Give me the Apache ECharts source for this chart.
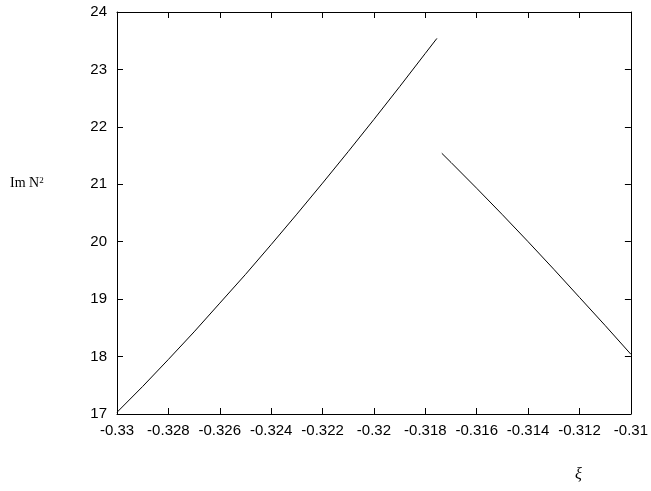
<!DOCTYPE html>
<html>
<head>
<meta charset="utf-8">
<script src="https://cdn.jsdelivr.net/npm/echarts@6/dist/echarts.min.js"></script>
<style>
  html, body { margin: 0; padding: 0; background: #fff; }
  #chart { width: 651px; height: 491px; }
</style>
</head>
<body>
<div id="chart"></div>
<script>
// left branch (rising)
const xLeft = [-0.330, -0.329, -0.328, -0.327, -0.326, -0.325, -0.324, -0.323, -0.322, -0.321, -0.320, -0.319, -0.318, -0.31755];
const yLeft = [17.03, 17.48, 17.95, 18.43, 18.93, 19.43, 19.95, 20.48, 21.02, 21.57, 22.13, 22.70, 23.28, 23.54];

// right branch (falling)
const xRight = [-0.31736, -0.317, -0.316, -0.315, -0.314, -0.313, -0.312, -0.311, -0.310];
const yRight = [21.54, 21.38, 20.93, 20.47, 20.00, 19.52, 19.03, 18.54, 18.04];

const xMin = -0.33, xMax = -0.31, xStep = 0.002;
const yMin = 17, yMax = 24, yStep = 1;

const zip = (xs, ys) => xs.map((x, i) => [x, ys[i]]);

const fontFamily = '"Liberation Sans", Arial, sans-serif';
const black = '#000';

const baseX = {
    type: 'value',
    min: xMin,
    max: xMax,
    interval: xStep,
    axisLine: { show: true, onZero: false, lineStyle: { color: black, width: 1 } },
    axisTick: { show: true, inside: true, length: 6, lineStyle: { color: black, width: 1 } },
    splitLine: { show: false },
};
const baseY = {
    type: 'value',
    min: yMin,
    max: yMax,
    interval: yStep,
    axisLine: { show: true, onZero: false, lineStyle: { color: black, width: 1 } },
    axisTick: { show: true, inside: true, length: 6, lineStyle: { color: black, width: 1 } },
    splitLine: { show: false },
};

const chart = echarts.init(document.getElementById('chart'), null, { renderer: 'canvas' });

chart.setOption({
    backgroundColor: '#fff',
    animation: false,
    grid: { left: 117, right: 15, top: 12, bottom: 77, containLabel: false },
    xAxis: [
        {
            ...baseX,
            position: 'bottom',
            axisLabel: {
                color: black,
                fontSize: 15,
                fontFamily,
                margin: 9,
                showMinLabel: true,
                showMaxLabel: true,
                formatter: (v) => String(+v.toFixed(3)),
            },
        },
        { ...baseX, position: 'top', axisLabel: { show: false } },
    ],
    yAxis: [
        {
            ...baseY,
            position: 'left',
            axisLabel: { color: black, fontSize: 15, fontFamily, margin: 10 },
        },
        { ...baseY, position: 'right', axisLabel: { show: false } },
    ],
    graphic: [
        {
            type: 'text',
            left: 10,
            top: 176,
            style: {
                text: 'Im N{sup|2}',
                fill: black,
                font: '14px "Liberation Serif", "Times New Roman", serif',
                rich: {
                    sup: { fontSize: 9, verticalAlign: 'top', padding: [0, 0, 6, 0], fontFamily: '"Liberation Serif", serif' },
                },
            },
        },
        {
            type: 'text',
            left: 575,
            top: 467,
            style: {
                text: 'ξ',
                fill: black,
                font: 'italic 16px "Liberation Serif", "DejaVu Serif", serif',
            },
        },
    ],
    series: [
        {
            type: 'line',
            data: zip(xLeft, yLeft),
            smooth: false,
            showSymbol: false,
            lineStyle: { color: black, width: 1 },
        },
        {
            type: 'line',
            data: zip(xRight, yRight),
            smooth: false,
            showSymbol: false,
            lineStyle: { color: black, width: 1 },
        },
    ],
});
</script>
</body>
</html>
